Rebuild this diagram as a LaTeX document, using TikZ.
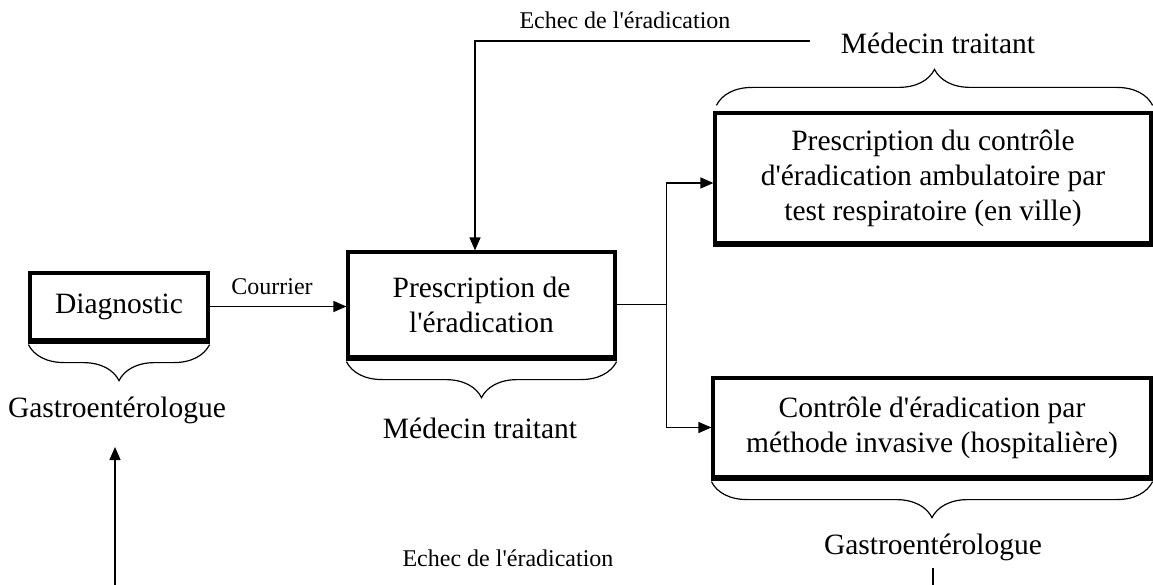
\documentclass[tikz,border=0pt]{standalone}
\usepackage{fontspec}
\setmainfont{Liberation Serif}[Ligatures=TeXOff]
\usetikzlibrary{arrows.meta,decorations.pathreplacing}
\tikzset{
  boxnode/.style={draw, line width=3.2pt, inner sep=0pt, align=center,
    font=\fontsize{29.5}{35}\selectfont},
  lbl/.style={inner sep=0pt, font=\fontsize{29.5}{35}\selectfont},
  small/.style={inner sep=0pt, font=\fontsize{24}{28}\selectfont},
  conn/.style={line width=1.3pt},
  arr/.style={line width=1.3pt, -{Triangle[length=13pt,width=11pt]}},
  brc/.style={line width=1.2pt, decorate, decoration={brace, amplitude=36pt}},
  brcm/.style={line width=1.2pt, decorate, decoration={brace, amplitude=36pt, mirror}},
  botedge/.style={line width=5pt}
}
\begin{document}
\begin{tikzpicture}[x=1pt,y=-1pt]
\useasboundingbox[fill=white] (0,0) rectangle (1153,585);

% boxes
\node[boxnode, minimum width=178pt, minimum height=67pt] (diag) at (119,306.5) {Diagnostic};
\node[boxnode, minimum width=267pt, minimum height=105pt] (presc) at (481.5,304.5) {Prescription de\\l'éradication};
\node[boxnode, minimum width=436pt, minimum height=130pt] (ctrl) at (933,178) {Prescription du contrôle\\d'éradication ambulatoire par\\test respiratoire (en ville)};
\node[boxnode, minimum width=438pt, minimum height=99pt] (inv) at (932,427.5) {Contrôle d'éradication par\\méthode invasive (hospitalière)};

% thicker bottom edges
\foreach \b in {diag,presc,ctrl,inv}{
  \draw[botedge] (\b.south west) -- (\b.south east);
}

% braces
\draw[brcm] ([yshift=-3pt]diag.south west) -- ([yshift=-3pt]diag.south east);
\draw[brcm] ([yshift=-3pt]presc.south west) -- ([yshift=-3pt]presc.south east);
\draw[brc] ([yshift=6pt,xshift=3pt]ctrl.north west) -- ([yshift=6pt]ctrl.north east);
\draw[brcm] ([yshift=-3pt]inv.south west) -- ([yshift=-3pt]inv.south east);

% labels
\node[lbl] (gl) at (117,410) {Gastroentérologue};
\node[lbl] (mt1) at (480,428) {Médecin traitant};
\node[lbl] (mt2) at (938,43) {Médecin traitant};
\node[lbl] (gr) at (933,547) {Gastroentérologue};
\node[small] (cour) at (272,287) {Courrier};
\node[small] (ech1) at (625,20) {Echec de l'éradication};
\node[small] (ech2) at (508,558) {Echec de l'éradication};

% connectors
\draw[arr] (diag.east) -- (diag.east -| presc.west);
\draw[conn] (presc.east) -- ++(50,0) coordinate (split);
\draw[arr] (split) |- ([yshift=-5pt]ctrl.west);
\draw[arr] (split) |- (inv.west);

\coordinate (t1) at (810,41);
\draw[arr] (t1) -| ([xshift=-6.5pt]presc.north);

\coordinate (b1) at (115,586);
\coordinate (b2) at (115,447);
\draw[arr] (b1) -- (b2);

\coordinate (r1) at (933,568);
\coordinate (r2) at (933,586);
\draw[conn] (r1) -- (r2);
\end{tikzpicture}
\end{document}
